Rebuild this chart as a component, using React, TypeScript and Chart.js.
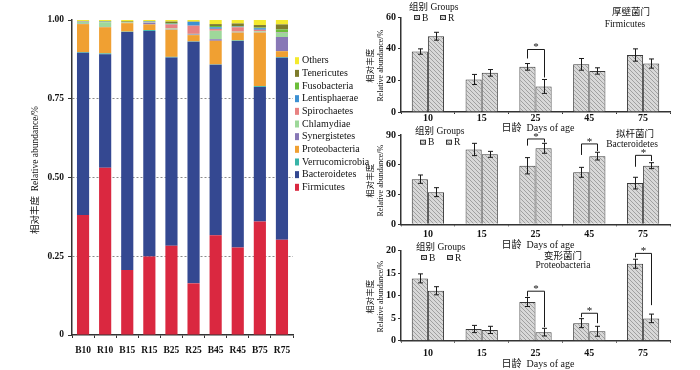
import React, { useEffect, useRef } from 'react';
import { Chart, registerables } from 'chart.js';
Chart.register(...registerables);

const SERIF = '"Times New Roman", "Liberation Serif", "Noto Sans CJK SC", serif';

// ---------- Left: stacked relative abundance ----------
const samples = ['B10', 'R10', 'B15', 'R15', 'B25', 'R25', 'B45', 'R45', 'B75', 'R75'];
const phyla = ['Firmicutes', 'Bacteroidetes', 'Verrucomicrobia', 'Proteobacteria', 'Synergistetes', 'Chlamydiae', 'Spirochaetes', 'Lentisphaerae', 'Fusobacteria', 'Tenericutes', 'Others'];
const phylaColors = ['#DA2840', '#344891', '#38B4A8', '#F0A032', '#8878B6', '#9ED89A', '#E88282', '#3C90D2', '#6CBE3A', '#7E7C2C', '#F4EA2E'];
const firmicutes = [0.381, 0.531, 0.206, 0.249, 0.283, 0.164, 0.317, 0.278, 0.360, 0.302];
const bacteroidetes = [0.515, 0.360, 0.756, 0.716, 0.598, 0.767, 0.541, 0.655, 0.427, 0.578];
const verrucomicrobia = [0.002, 0.003, 0.001, 0.003, 0.002, 0.001, 0.001, 0.002, 0.003, 0.002];
const proteobacteria = [0.089, 0.083, 0.027, 0.018, 0.086, 0.020, 0.075, 0.025, 0.170, 0.019];
const synergistetes = [0.001, 0.001, 0.000, 0.005, 0.001, 0.002, 0.005, 0.001, 0.001, 0.045];
const chlamydiae = [0.006, 0.015, 0.002, 0.001, 0.003, 0.002, 0.027, 0.002, 0.003, 0.013];
const spirochaetes = [0.001, 0.001, 0.001, 0.001, 0.013, 0.026, 0.006, 0.014, 0.005, 0.001];
const lentisphaerae = [0.001, 0.001, 0.000, 0.002, 0.002, 0.012, 0.005, 0.002, 0.005, 0.001];
const fusobacteria = [0.000, 0.001, 0.001, 0.000, 0.002, 0.000, 0.004, 0.001, 0.002, 0.009];
const tenericutes = [0.001, 0.001, 0.002, 0.001, 0.005, 0.001, 0.006, 0.009, 0.008, 0.016];
const others = [0.003, 0.003, 0.004, 0.004, 0.005, 0.005, 0.013, 0.011, 0.016, 0.014];
const phylaValues = [firmicutes, bacteroidetes, verrucomicrobia, proteobacteria, synergistetes, chlamydiae, spirochaetes, lentisphaerae, fusobacteria, tenericutes, others];
const stackTicks = [0, 0.25, 0.5, 0.75, 1];

// ---------- Right: group comparison panels ----------
const days = ['10', '15', '25', '45', '75'];
const firmB = [38.3, 20.6, 28.6, 30.2, 36.1];
const firmBErr = [1.7, 3.2, 2.1, 3.7, 3.9];
const firmR = [48.0, 24.8, 16.2, 26.0, 30.7];
const firmRErr = [2.5, 2.1, 4.4, 2.0, 2.9];
const bactB = [45.5, 75.4, 59.0, 52.4, 41.5];
const bactBErr = [4.2, 6.2, 8.2, 5.0, 5.9];
const bactR = [32.4, 70.5, 76.6, 68.7, 59.1];
const bactRErr = [4.5, 3.0, 5.0, 3.9, 3.0];
const protB = [13.85, 2.6, 8.6, 3.9, 17.1];
const protBErr = [1.0, 0.8, 1.0, 1.0, 1.0];
const protR = [11.1, 2.4, 1.9, 2.1, 4.96];
const protRErr = [0.9, 0.8, 0.85, 1.1, 0.95];
// [category index, bracket level, left leg bottom, right leg bottom]
const firmBrackets = [[2, 39.6, 33.9, 21.9]];
const bactBrackets = [[2, 86, 79.3, 82.6], [3, 81, 69.9, 73.9], [4, 69.5, 58, 63.8]];
const protBrackets = [[2, 11.0, 9.8, 3.0], [3, 6.1, 5.2, 3.9], [4, 19.4, 18.5, 7.9]];

function makeHatch(ctx: CanvasRenderingContext2D) {
  const c = document.createElement('canvas');
  c.width = 4; c.height = 4;
  const g = c.getContext('2d')!;
  g.fillStyle = '#d8d8d8';
  g.fillRect(0, 0, 4, 4);
  g.strokeStyle = '#a0a0a0';
  g.lineWidth = 1;
  g.beginPath();
  g.moveTo(0, 0); g.lineTo(4, 4);
  g.moveTo(-2, 2); g.lineTo(2, 6);
  g.moveTo(2, -2); g.lineTo(6, 2);
  g.stroke();
  return ctx.createPattern(c, 'repeat')!;
}

function text(ctx: CanvasRenderingContext2D, s: string, x: number, y: number, size: number, align: CanvasTextAlign = 'left', rot = 0) {
  ctx.save();
  ctx.font = `${size}px ${SERIF}`;
  ctx.fillStyle = '#111';
  ctx.textAlign = align;
  ctx.textBaseline = 'middle';
  ctx.translate(x, y);
  if (rot) ctx.rotate(rot);
  ctx.fillText(s, 0, 0);
  ctx.restore();
}

function StackedChart() {
  const ref = useRef<HTMLCanvasElement>(null);
  useEffect(() => {
    const cv = ref.current!;
    const deco = {
      id: 'deco',
      afterDraw(chart: any) {
        const { ctx } = chart;
        text(ctx, '相对丰度  Relative abundance/%', 35, 170, 9.5, 'center', -Math.PI / 2);
        const n = phyla.length;
        for (let i = n - 1; i >= 0; i--) {
          const k = n - 1 - i;
          const y = 60.7 + k * 12.66;
          ctx.fillStyle = phylaColors[i];
          ctx.fillRect(295, y - 3.5, 4, 7);
          text(ctx, phyla[i], 302, y, 10);
        }
      },
    };
    const chart = new Chart(cv, {
      type: 'bar',
      data: {
        labels: samples,
        datasets: phyla.map((p, i) => ({
          label: p,
          data: phylaValues[i],
          backgroundColor: phylaColors[i],
          borderWidth: 0,
          barPercentage: 0.55,
          categoryPercentage: 1,
        })),
      },
      options: {
        responsive: false,
        animation: false,
        layout: { padding: { left: 0, right: 87, top: 20, bottom: 0 } },
        plugins: { legend: { display: false }, tooltip: { enabled: false } },
        scales: {
          x: {
            stacked: true,
            afterFit: (s: any) => { s.height = 35; },
            grid: { offset: true, drawOnChartArea: false, drawTicks: true, tickLength: 3, tickColor: '#333' },
            border: { color: '#333', width: 1.5 },
            ticks: { color: '#111', padding: 7, maxRotation: 0, minRotation: 0, autoSkip: false, font: { family: SERIF, size: 9.5, weight: 'bold' } },
          },
          y: {
            stacked: true,
            min: 0,
            max: 1,
            afterFit: (s: any) => { s.width = 72; },
            afterBuildTicks: (s: any) => { s.ticks = stackTicks.map((v) => ({ value: v })); },
            grid: {
              color: (c: any) => (c.tick && c.tick.value > 0 && c.tick.value < 1 ? '#8a8a8a' : 'rgba(0,0,0,0)'),
              tickColor: '#333',
              tickLength: 4,
              lineWidth: 1,
            },
            border: { color: '#333', width: 1.5, dash: [2, 2] },
            ticks: {
              color: '#111',
              padding: 4,
              font: { family: SERIF, size: 9.5, weight: 'bold' },
              callback: (v: any) => (v === 0 ? '0' : Number(v).toFixed(2)),
            },
          },
        },
      } as any,
      plugins: [deco],
    });
    return () => chart.destroy();
  }, []);
  return <canvas ref={ref} width={380} height={370} style={{ position: 'absolute', left: 0, top: 0 }} />;
}

type PanelProps = {
  top: number; height: number; padTop: number; bottom: number; tickPad: number;
  B: number[]; Be: number[]; R: number[]; Re: number[];
  max: number; step: number; brackets: number[][];
  cn: string; en: string; cnPos: [number, number]; enPos: [number, number];
  legX: number; legY: number; xTitleY: number;
};

function Panel(p: PanelProps) {
  const ref = useRef<HTMLCanvasElement>(null);
  useEffect(() => {
    const cv = ref.current!;
    const ctx0 = cv.getContext('2d')!;
    const hatch = makeHatch(ctx0);
    const errs = [p.Be, p.Re];
    const deco = {
      id: 'deco',
      afterDatasetsDraw(chart: any) {
        const { ctx } = chart;
        const ys = chart.scales.y;
        ctx.save();
        ctx.strokeStyle = '#1a1a1a';
        ctx.lineWidth = 1;
        chart.data.datasets.forEach((ds: any, i: number) => {
          const meta = chart.getDatasetMeta(i);
          meta.data.forEach((el: any, j: number) => {
            const v = ds.data[j];
            const e = errs[i][j];
            const x = Math.round(el.x) + 0.5;
            const y1 = ys.getPixelForValue(v + e);
            const y2 = ys.getPixelForValue(v - e);
            ctx.beginPath();
            ctx.moveTo(x, y1); ctx.lineTo(x, y2);
            ctx.moveTo(x - 2.5, y1); ctx.lineTo(x + 2.5, y1);
            ctx.moveTo(x - 2.5, y2); ctx.lineTo(x + 2.5, y2);
            ctx.stroke();
          });
        });
        const m0 = chart.getDatasetMeta(0);
        const m1 = chart.getDatasetMeta(1);
        p.brackets.forEach((b) => {
          const [ci, lvl, lb, rb] = b;
          const xl = Math.round(m0.data[ci].x) + 0.5;
          const xr = Math.round(m1.data[ci].x) + 0.5;
          const yl = ys.getPixelForValue(lvl);
          ctx.beginPath();
          ctx.moveTo(xl, ys.getPixelForValue(lb));
          ctx.lineTo(xl, yl);
          ctx.lineTo(xr, yl);
          ctx.lineTo(xr, ys.getPixelForValue(rb));
          ctx.stroke();
          ctx.font = `11px ${SERIF}`;
          ctx.fillStyle = '#111';
          ctx.textAlign = 'center';
          ctx.textBaseline = 'alphabetic';
          ctx.fillText('*', (xl + xr) / 2, yl + 1);
        });
        ctx.restore();
      },
      afterDraw(chart: any) {
        const { ctx, chartArea } = chart;
        const cy = (chartArea.top + chartArea.bottom) / 2 + 1;
        text(ctx, '相对丰度', 31, cy, 8.5, 'center', -Math.PI / 2);
        text(ctx, 'Relative abundance/%', 41, cy, 8, 'center', -Math.PI / 2);
        text(ctx, '日龄  Days of age', 198, p.xTitleY, 10, 'center');
        text(ctx, p.cn, p.cnPos[0], p.cnPos[1], 9.5, 'center');
        text(ctx, p.en, p.enPos[0], p.enPos[1], 9.5, 'center');
        text(ctx, '组别 Groups', p.legX, p.legY, 9.5);
        const ly = p.legY + 11;
        chart.data.datasets.forEach((ds: any, i: number) => {
          const mx = p.legX + 5 + i * 26;
          ctx.fillStyle = hatch;
          ctx.fillRect(mx, ly - 2, 5, 4);
          ctx.strokeStyle = '#333';
          ctx.lineWidth = 1;
          ctx.strokeRect(mx + 0.5, ly - 2.5, 5, 4);
          text(ctx, ds.label, mx + 8, ly, 9.5);
        });
      },
    };
    const common = { borderColor: '#3a3a3a', borderWidth: 1, backgroundColor: hatch, categoryPercentage: 0.6, barPercentage: 1 };
    const chart = new Chart(cv, {
      type: 'bar',
      data: {
        labels: days,
        datasets: [
          { label: 'B', data: p.B, ...common },
          { label: 'R', data: p.R, ...common },
        ],
      },
      options: {
        responsive: false,
        animation: false,
        layout: { padding: { left: 0, right: 30, top: p.padTop, bottom: 0 } },
        plugins: { legend: { display: false }, tooltip: { enabled: false } },
        scales: {
          x: {
            afterFit: (s: any) => { s.height = p.height - p.bottom; },
            grid: { offset: true, drawOnChartArea: false, drawTicks: true, tickLength: 2, tickColor: '#333' },
            border: { color: '#333', width: 1.5 },
            ticks: { color: '#111', padding: p.tickPad, maxRotation: 0, font: { family: SERIF, size: 10, weight: 'bold' } },
          },
          y: {
            min: 0,
            max: p.max,
            afterFit: (s: any) => { s.width = 61; },
            grid: { drawOnChartArea: false, tickColor: '#333', tickLength: 3 },
            border: { color: '#333', width: 1.5 },
            ticks: { stepSize: p.step, color: '#111', padding: 2, font: { family: SERIF, size: 10, weight: 'bold' } },
          },
        },
      } as any,
      plugins: [deco],
    });
    return () => chart.destroy();
  }, []);
  return <canvas ref={ref} width={360} height={p.height} style={{ position: 'absolute', left: 340, top: p.top }} />;
}

export default function App() {
  return (
    <div style={{ position: 'absolute', left: 0, top: 0, width: 700, height: 370, background: '#fff', overflow: 'hidden' }}>
      <StackedChart />
      <Panel top={0} height={136} padTop={17.3} bottom={112} tickPad={-1.5} B={firmB} Be={firmBErr} R={firmR} Re={firmRErr}
        max={60} step={20} brackets={firmBrackets} cn="厚壁菌门" en="Firmicutes" cnPos={[291, 12.3]} enPos={[285, 24]}
        legX={69} legY={7} xTitleY={128.3} />
      <Panel top={122} height={130} padTop={13} bottom={102.3} tickPad={2} B={bactB} Be={bactBErr} R={bactR} Re={bactRErr}
        max={90} step={30} brackets={bactBrackets} cn="拟杆菌门" en="Bacteroidetes" cnPos={[295, 12]} enPos={[292, 22.3]}
        legX={75} legY={9.7} xTitleY={123} />
      <Panel top={238} height={132} padTop={12.7} bottom={102.7} tickPad={4.5} B={protB} Be={protBErr} R={protR} Re={protRErr}
        max={20} step={5} brackets={protBrackets} cn="变形菌门" en="Proteobacteria" cnPos={[223, 18]} enPos={[223, 27.7]}
        legX={76} legY={9} xTitleY={126} />
    </div>
  );
}
